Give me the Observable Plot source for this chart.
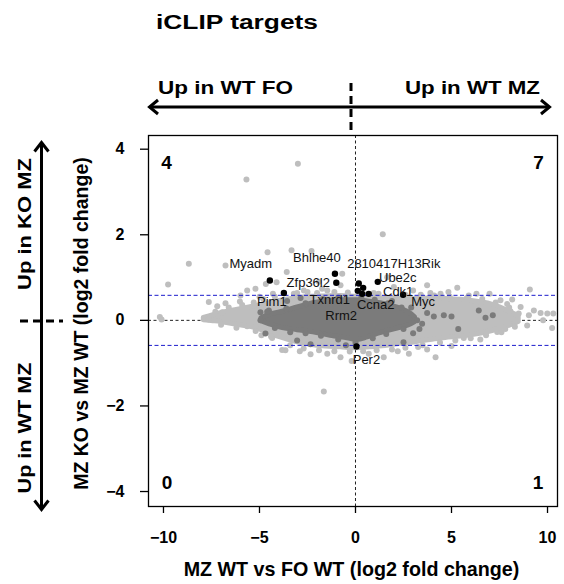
<!DOCTYPE html>
<html>
<head>
<meta charset="utf-8">
<script src="https://cdn.jsdelivr.net/npm/d3@7"></script>
<script src="https://cdn.jsdelivr.net/npm/@observablehq/plot@0.6"></script>
<style>
  html, body { margin: 0; padding: 0; background: #fff; }
  #chart svg { display: block; }
</style>
</head>
<body>
<div id="chart"></div>
<script>
// ---- iCLIP targets: MZ WT vs FO WT against MZ KO vs MZ WT (log2 fold changes) ----

// Highlighted iCLIP target genes
const geneNames = ["Myadm", "Pim1", "Bhlhe40", "Zfp36l2", "2810417H13Rik", "Ube2c",
                   "Cdk1", "Txnrd1", "Ccna2", "Rrm2", "Myc", "Per2"];
const geneX = [-4.46, -3.73, -1.07, -1.00, 0.17, 1.16, 0.40, 0.12, 0.69, 0.35, 2.48, 0.05];
const geneY = [ 0.93,  0.64,  1.09,  0.88, 0.86, 0.90, 0.76, 0.69, 0.62, 0.62, 0.60, -0.61];

// Fold-change cut-off for the KO vs WT comparison (log2 1.5)
const fcCut = 0.585;

// Outline of the dense cloud of all genes (light) and of the expressed core (dark)
const lightEnvX = [-7.9, -7.4, -7.0, -6.25, -5.47, -4.69, -3.9, -3.13, -2.34, -1.56, -0.78, 0,
                   0.78, 1.56, 2.34, 3.13, 3.9, 4.69, 5.47, 6.25, 7.03, 7.55, 8.07, 8.5];
const lightTop = [0.06, 0.12, 0.17, 0.24, 0.31, 0.38, 0.46, 0.51, 0.55, 0.56, 0.57, 0.55,
                  0.53, 0.51, 0.50, 0.50, 0.51, 0.50, 0.48, 0.44, 0.38, 0.30, 0.19, 0.10];
const lightBottom = [0.0, -0.02, -0.04, -0.10, -0.15, -0.26, -0.40, -0.50, -0.57, -0.61, -0.63, -0.65,
                     -0.63, -0.60, -0.55, -0.51, -0.46, -0.41, -0.38, -0.33, -0.26, -0.19, -0.12, -0.04];

const darkEnvX = [-4.9, -4.43, -3.9, -3.02, -2.19, -1.3, -0.42, 0.1, 0.63, 1.3, 2.19, 2.76, 3.1];
const darkTop = [0.05, 0.14, 0.19, 0.30, 0.40, 0.46, 0.47, 0.47, 0.44, 0.40, 0.30, 0.19, 0.07];
const darkBottom = [-0.02, -0.10, -0.17, -0.23, -0.28, -0.36, -0.42, -0.46, -0.40, -0.30, -0.19, -0.12, -0.04];

// Individual genes outside or on the rim of the dense cloud
const lightX = [-3.0, -5.68, 1.42, -4.58, -3.33, -2.29, -8.68, -6.77, -9.76, -4.11, -3.58, -0.69,
  -1.91, -1.74, -5.64, -5.21, -4.67, -3.21, -3.04, -2.69, -1.47, -0.78, 0.95, 1.65, 2.0, 3.0,
  3.73, 3.9, 4.43, 4.84, 5.3, 6.98, 7.55, 8.16, 9.08, 8.6, 8.07, 8.5, 9.03, 9.29, 9.64, 9.99,
  10.3, 9.77, 8.94, 10.24, 7.38, 5.64, 4.17, 3.73, 3.26, 2.78, 1.47, 0.69, -0.78, -1.47, -2.34,
  -3.65, -3.82, -4.34, -5.64, -1.65, -7.64, -7.2, -6.77, -6.02, -6.39, -6.94, -7.64, -10.19,
  -10.1, -5.99, -5.0, -4.3, 6.3, 5.9, 7.9, 8.3, 7.8, 6.5, 5.0, 2.2, -0.2, -2.9, -4.9,
  -7.3, -6.6, -5.9, -5.3, -4.8, -4.2, -2.5, -2.0, -1.1, -0.4, 0.5, 1.2, 2.6, 3.4, 4.1, 4.9,
  5.8, 6.6, 7.3, 8.0,
  -7.0, -6.2, -5.2, -4.4, -3.4, -2.7, -1.9, -1.1, -0.3, 0.4, 1.1, 1.9, 2.6, 3.5, 4.4, 5.2,
  6.0, 6.8, 7.6, 8.3];
const lightY = [3.66, 3.29, 2.01, 1.59, 1.64, 1.62, 1.32, 1.28, 0.84, 0.89, 1.13, 1.09,
  0.90, 0.74, 0.70, 0.74, 0.85, 0.62, 0.64, 0.70, 0.70, 0.82, 0.64, 1.01, 0.78, 0.70,
  0.82, 0.64, 0.62, 0.66, 0.76, 0.62, 0.47, 0.49, 0.72, 0.31, 0.21, 0.16, 0.12, 0.23, 0.17, 0.16,
  0.16, 0.0, -0.12, -0.18, -0.27, -0.41, -0.86, -0.68, -0.62, -0.78, -0.86, -0.78, -0.86, -0.78, -0.79,
  -0.70, -0.69, -0.41, -0.14, -1.66, 0.43, 0.33, 0.40, 0.44, 0.17, 0.19, 0.02, 0.08,
  0.02, 0.58, 0.55, 0.62, 0.62, 0.58, 0.38, -0.05, -0.2, -0.45, -0.6, -0.72, -0.95, -0.72, -0.35,
  0.2, 0.3, 0.36, 0.42, 0.5, 0.55, 0.66, 0.64, 0.66, 0.65, 0.6, 0.62, 0.6, 0.6, 0.58, 0.56,
  0.52, 0.5, 0.42, 0.3,
  -0.1, -0.17, -0.25, -0.38, -0.58, -0.66, -0.7, -0.72, -0.73, -0.72, -0.7, -0.68, -0.64, -0.58, -0.52, -0.47,
  -0.42, -0.35, -0.28, -0.15];

const darkX = [3.73, 4.08, 4.6, 5.0, 6.42, 6.77, 7.15, 5.35, 3.33, 3.47, 3.21, -4.95, -4.51,
  -4.95, -4.69, -3.04, -2.34, 2.5, -3.56, -2.86, 1.9, 2.9, 3.0, -0.5,
  -4.6, -3.6, -2.6, -1.7, -0.9, 0.3, 1.0, 1.7, 2.4,
  -4.2, -3.4, -2.6, -1.8, -0.9, 0.0, 0.9, 1.6, 2.5];
const darkY = [0.17, 0.09, 0.12, 0.09, 0.23, 0.06, 0.12, -0.2, -0.2, -0.08, 0.0, 0.19, 0.23,
  0.0, -0.31, -0.47, -0.56, -0.51, 0.45, 0.52, 0.45, 0.3, -0.3, -0.58,
  0.2, 0.28, 0.4, 0.5, 0.53, 0.53, 0.48, 0.4, 0.3,
  -0.18, -0.28, -0.3, -0.36, -0.45, -0.52, -0.42, -0.32, -0.2];

// Axis ticks
const xTicks = [-10, -5, 0, 5, 10];
const yTicks = [-4, -2, 0, 2, 4];

// ---- tables for the marks ----
const genes = geneNames.map((name, i) => ({name, x: geneX[i], y: geneY[i]}));
const lightEnv = lightEnvX.map((x, i) => ({x, top: lightTop[i], bottom: lightBottom[i]}));
const darkEnv = darkEnvX.map((x, i) => ({x, top: darkTop[i], bottom: darkBottom[i]}));
const lightPts = lightX.map((x, i) => ({x, y: lightY[i]}));
const darkPts = darkX.map((x, i) => ({x, y: darkY[i]}));

// Number of highlighted genes in each corner region
const quad = (fx, fy) => genes.filter(g => fx(g.x) && fy(g.y)).length;
const counts = {
  topLeft: quad(x => x < 0, y => y > fcCut),
  topRight: quad(x => x > 0, y => y > fcCut),
  bottomLeft: quad(x => x < 0, y => y < -fcCut),
  bottomRight: quad(x => x > 0, y => y < -fcCut)
};

// Label placement (pixel offsets from each point)
const labelOffset = {
  "Myadm": [-19, -17], "Pim1": [-12, 9], "Bhlhe40": [-18, -15.5], "Zfp36l2": [-28, 0.5],
  "2810417H13Rik": [35, -19.5], "Ube2c": [20, -4], "Cdk1": [35, 3.5], "Txnrd1": [-28, 9],
  "Ccna2": [7, 11.5], "Rrm2": [-21, 22.5], "Myc": [20, 7.5], "Per2": [10, 13]
};

const FONT = "'Liberation Sans', Arial, Helvetica, sans-serif";
const LIGHT = "#bebebe";
const DARK = "#7b7b7b";

const chart = Plot.plot({
  width: 564,
  height: 584,
  marginLeft: 148,
  marginRight: 7,
  marginTop: 135,
  marginBottom: 78,
  x: {domain: [-10.78, 10.52]},
  y: {domain: [-4.35, 4.32]},
  style: {fontFamily: FONT, background: "white", overflow: "visible"},
  marks: [
    Plot.ruleX([0], {stroke: "#222", strokeWidth: 1, strokeDasharray: "3,2.5"}),
    Plot.ruleY([0], {stroke: "#222", strokeWidth: 1, strokeDasharray: "3,2.5"}),
    Plot.areaY(lightEnv, {x: "x", y1: "bottom", y2: "top", fill: LIGHT, stroke: LIGHT,
      strokeWidth: 5, strokeLinejoin: "round", curve: "catmull-rom"}),
    Plot.dot(lightPts, {x: "x", y: "y", r: 3, fill: LIGHT}),
    Plot.areaY(darkEnv, {x: "x", y1: "bottom", y2: "top", fill: DARK, stroke: DARK,
      strokeWidth: 5, strokeLinejoin: "round", curve: "catmull-rom"}),
    Plot.dot(darkPts, {x: "x", y: "y", r: 3, fill: DARK}),
    Plot.ruleY([fcCut, -fcCut], {stroke: "#1c1ccc", strokeWidth: 1, strokeDasharray: "4,2.5"}),
    Plot.dot(genes, {x: "x", y: "y", r: 3.2, fill: "black"}),
    ...genes.map(g => Plot.text([g], {
      x: "x", y: "y", text: "name", fontSize: 13, fill: "#111",
      dx: labelOffset[g.name][0], dy: labelOffset[g.name][1]
    })),
    Plot.text([counts.topLeft], {text: d => d, frameAnchor: "top-left", textAnchor: "middle",
      lineAnchor: "middle", dx: 18, dy: 27, fontSize: 19, fontWeight: "bold"}),
    Plot.text([counts.topRight], {text: d => d, frameAnchor: "top-right", textAnchor: "middle",
      lineAnchor: "middle", dx: -19, dy: 27, fontSize: 19, fontWeight: "bold"}),
    Plot.text([counts.bottomLeft], {text: d => d, frameAnchor: "bottom-left", textAnchor: "middle",
      lineAnchor: "middle", dx: 18.5, dy: -23.5, fontSize: 19, fontWeight: "bold"}),
    Plot.text([counts.bottomRight], {text: d => d, frameAnchor: "bottom-right", textAnchor: "middle",
      lineAnchor: "middle", dx: -19.5, dy: -23.5, fontSize: 19, fontWeight: "bold"}),
    Plot.frame({stroke: "black", strokeWidth: 1.3}),
    Plot.axisX({ticks: xTicks, tickSize: 7, tickPadding: 18, fontSize: 16,
      strokeWidth: 1.3, label: null}),
    Plot.axisY({ticks: yTicks, tickSize: 8, tickPadding: 16, fontSize: 16,
      strokeWidth: 1.3, label: null})
  ]
});

// ---- titles, axis titles and direction arrows ----
const svg = d3.select(chart);

// bold tick labels
svg.selectAll('g[aria-label$="tick label"]').attr("font-weight", "bold");

const ann = svg.append("g")
  .attr("font-family", FONT)
  .attr("font-weight", "bold")
  .attr("fill", "black");

function addText(x, y, txt, size, opts = {}) {
  const t = ann.append("text")
    .attr("font-size", size)
    .attr("text-anchor", opts.anchor || "start")
    .attr("transform", `translate(${x},${y})${opts.rotate ? " rotate(-90)" : ""}`)
    .text(txt);
  if (opts.length) t.attr("textLength", opts.length).attr("lengthAdjust", "spacingAndGlyphs");
  return t;
}

addText(156, 29, "iCLIP targets", 19.5, {length: 162});
addText(158, 94, "Up in WT FO", 17.5, {length: 135});
addText(405, 94, "Up in WT MZ", 17.5, {length: 135});
addText(31, 224, "Up in KO MZ", 18.5, {anchor: "middle", rotate: true, length: 132});
addText(31, 428, "Up in WT MZ", 18.5, {anchor: "middle", rotate: true, length: 131});
addText(88, 323.5, "MZ KO vs MZ WT (log2 fold change)", 19.5, {anchor: "middle", rotate: true});
addText(351.5, 576, "MZ WT vs FO WT (log2 fold change)", 19.7, {anchor: "middle"});

const arrows = svg.append("g")
  .attr("stroke", "black")
  .attr("stroke-width", 3)
  .attr("fill", "none");

// horizontal double arrow
arrows.append("line").attr("x1", 150).attr("y1", 107).attr("x2", 549).attr("y2", 107);
arrows.append("path").attr("d", "M158,100 L149.5,107 L158,114");
arrows.append("path").attr("d", "M541,100 L549.5,107 L541,114");
arrows.append("line").attr("x1", 351).attr("y1", 83).attr("x2", 351).attr("y2", 134)
  .attr("stroke-dasharray", "8,5");

// vertical double arrow
arrows.append("line").attr("x1", 41.5).attr("y1", 143).attr("x2", 41.5).attr("y2", 509);
arrows.append("path").attr("d", "M34.5,151.5 L41.5,142.5 L48.5,151.5");
arrows.append("path").attr("d", "M34.5,500.5 L41.5,509.5 L48.5,500.5");
arrows.append("line").attr("x1", 20).attr("y1", 321).attr("x2", 63).attr("y2", 321)
  .attr("stroke-dasharray", "8,5");

document.getElementById("chart").appendChild(chart);
</script>
</body>
</html>
